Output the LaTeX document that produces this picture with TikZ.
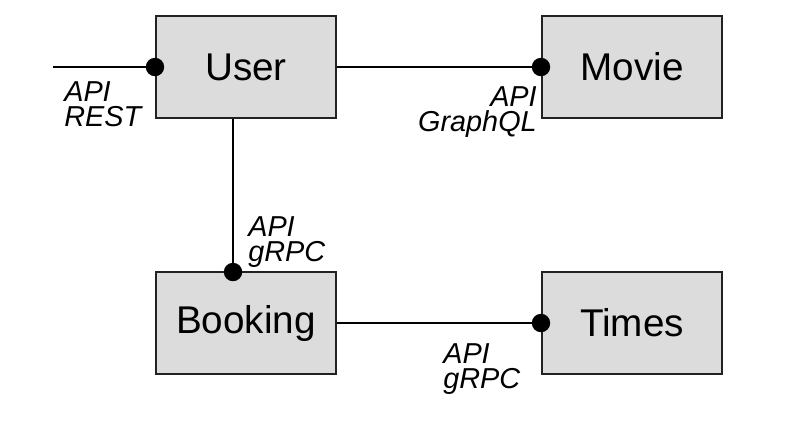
\documentclass[tikz,border=0pt]{standalone}
\usepackage{fontspec}
\setmainfont{Liberation Sans}
\usetikzlibrary{positioning}
\definecolor{boxfill}{HTML}{DCDCDC}
\definecolor{boxline}{HTML}{222222}

\begin{document}
\begin{tikzpicture}[x=0.025cm, y=-0.025cm,
    service/.style={draw=boxline, line width=1.4pt, fill=boxfill, minimum width=4.5cm, minimum height=2.55cm, inner sep=0pt, font=\fontsize{27.5}{30}\selectfont},
    port/.style={circle, fill=black, inner sep=0pt, minimum size=0.46cm},
    api/.style={inner sep=0pt, font=\fontsize{20.5}{17.8}\selectfont\itshape},
    link/.style={line width=1.4pt, draw=black}]
    \useasboundingbox (0,0) rectangle (787,424);

    % Services
    \node (user) [service] at (246,67) {User};
    \node (movie) [service] at (632,67) {Movie};
    \node (booking) [service] at (246,323) {Booking};
    \node (times) [service] at (632,323) {Times};

    % Entry point and ports
    \coordinate (entry) at (53,67);
    \node (restport) [port] at (user.west) {};
    \node (gqlport) [port] at (movie.west) {};
    \node (bookport) [port] at (233,272) {};
    \node (timesport) [port] at (times.west) {};

    % Connectors
    \draw[link] (entry) -- (restport.center);
    \draw[link] (user.east) -- (gqlport.center);
    \draw[link] (bookport.center |- user.south) -- (bookport.center);
    \draw[link] (booking.east) -- (timesport.center);

    % Protocol labels
    \node (restlbl) [api, align=left, anchor=north west] at (64,81) {API\\REST};
    \node (gqllbl) [api, align=right, anchor=north east] at (537,86) {API\\GraphQL};
    \node (grpclbl) [api, align=left, anchor=north west] at (248,216) {API\\gRPC};
    \node (timeslbl) [api, align=left, anchor=north west] at (443,343) {API\\gRPC};
\end{tikzpicture}
\end{document}
